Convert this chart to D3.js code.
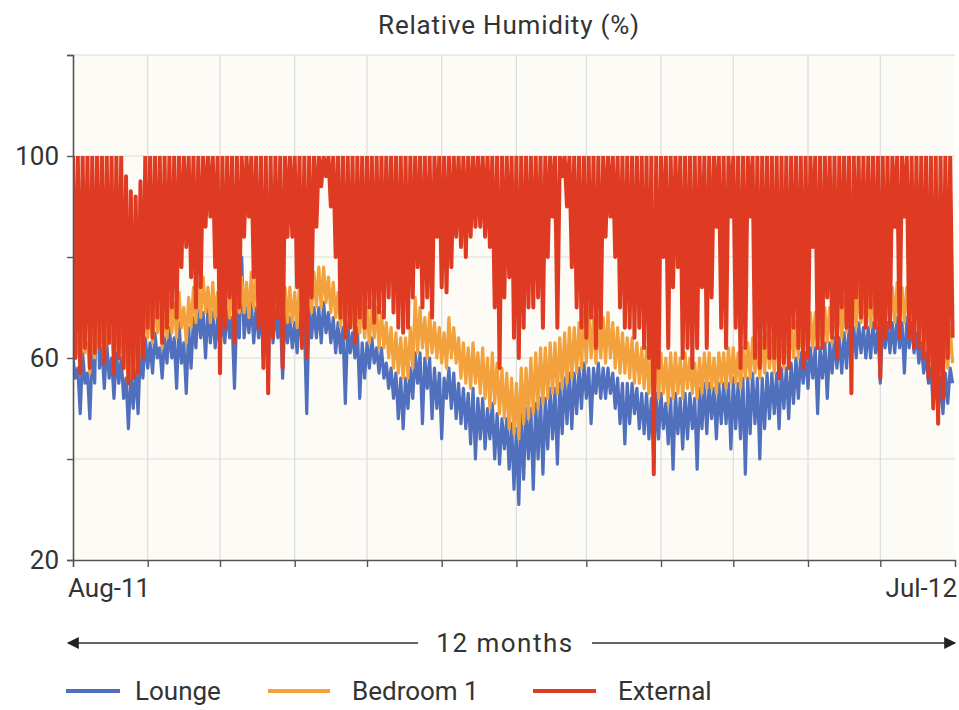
<!DOCTYPE html>
<html>
<head>
<meta charset="utf-8">
<script src="https://cdn.jsdelivr.net/npm/d3@7"></script>
<style>
  body { margin: 0; background: #fff; }
  text { font-family: Roboto, "DejaVu Sans", sans-serif; fill: #333; }
</style>
</head>
<body>
<div id="d3-target"></div>
<script>
// readings every second day from 1 Aug 2011, one high and one low per sample
const startDate = new Date(2011, 7, 1);
const endDate = new Date(2012, 7, 1);
const stepDays = 2;

const loungeLow = [
  56,49,55,48,55, 58,54,56,52,55, 52,46,50,49,56, 58,57,60,56,59, 60,54,59,53,58, 62,64,60,63,62,
  62,63,64,54,64, 64,65,63,64,60, 53,63,64,56,63, 62,61,63,49,64, 64,63,65,63,61, 61,51,61,60,52,
  56,58,59,57,56, 54,52,48,46,50, 52,55,47,54,48, 50,44,52,50,48, 47,46,43,40,44, 42,44,40,39,42,
  38,34,31,36,40, 34,40,37,42,44, 39,45,47,46,49, 50,52,47,53,52, 52,53,50,47,43, 47,49,46,45,44,
  39,44,46,43,38, 45,42,44,46,38, 46,45,48,44,47, 47,42,46,44,37, 45,47,40,46,48, 49,46,50,48,51,
  52,55,54,56,49, 56,52,57,58,57, 58,60,60,61,60, 60,61,55,62,61, 61,62,57,62,61, 59,57,55,50,49,
  49,51,55
];
const loungeHigh = [
  60,58,61,57,62, 78,62,63,60,61, 60,56,57,58,62, 64,63,65,62,64, 66,64,67,63,66, 68,70,69,70,69,
  68,69,70,68,70, 80,70,71,70,69, 69,81,70,69,69, 68,67,69,67,70, 70,70,71,69,68, 67,66,67,65,66,
  63,63,64,62,62, 59,58,57,56,56, 58,61,61,60,60, 58,57,56,58,57, 55,54,53,54,52, 52,50,51,49,48,
  48,47,46,49,50, 50,51,52,52,54, 54,55,56,57,57, 58,59,58,58,59, 58,58,57,56,55, 55,55,54,53,53,
  52,53,53,51,52, 53,52,53,53,52, 54,55,55,54,55, 55,55,56,55,56, 56,57,56,56,57, 57,57,58,58,59,
  60,61,61,62,62, 62,63,63,64,64, 65,66,66,67,66, 66,67,66,68,67, 67,68,67,68,67, 65,63,61,58,57,
  56,57,58
];
const bedroomLow = [
  60,58,61,57,60, 62,60,63,59,61, 59,55,56,57,62, 64,63,65,62,64, 65,64,66,63,66, 67,68,69,67,68,
  66,67,68,67,69, 69,68,70,69,68, 68,67,69,68,67, 67,66,68,67,69, 70,70,71,69,68, 66,65,66,64,65,
  64,63,64,62,62, 60,58,57,56,56, 58,61,62,60,61, 60,59,58,60,59, 56,55,54,55,53, 52,50,51,49,48,
  46,45,44,47,48, 49,50,51,52,53, 53,54,55,56,57, 58,59,60,59,60, 59,60,58,57,57, 56,55,55,54,53,
  52,52,53,51,52, 53,52,54,53,52, 53,54,54,53,55, 54,55,55,54,56, 56,57,56,57,58, 57,58,58,59,60,
  60,61,61,62,62, 62,63,63,64,64, 65,66,66,67,66, 66,67,66,68,67, 67,68,67,68,67, 65,63,61,59,58,
  57,58,59
];
const bedroomHigh = [
  66,64,67,63,66, 70,66,68,65,67, 65,62,61,63,68, 70,71,72,69,71, 72,71,73,70,72, 74,75,76,74,75,
  73,74,75,74,76, 76,75,77,76,75, 75,76,77,75,74, 74,73,75,74,76, 77,78,78,76,75, 73,72,73,71,72,
  71,70,71,70,69, 67,66,65,64,64, 66,72,70,68,69, 67,66,65,68,66, 64,63,62,63,61, 62,60,61,59,58,
  57,56,55,58,58, 60,61,62,62,63, 63,64,65,66,66, 67,69,70,68,68, 68,69,67,66,65, 64,64,63,62,62,
  61,62,61,60,61, 61,60,61,60,59, 60,61,61,60,61, 61,62,62,61,62, 63,64,63,64,65, 64,65,65,66,67,
  67,68,68,69,69, 69,70,70,71,72, 72,73,74,74,73, 73,74,73,75,74, 74,75,74,74,73, 72,70,68,66,65,
  64,65,66
];
const externalLow = [
  60,57,62,58,61, 62,59,63,57,60, 58,55,56,57,60, 66,64,68,63,66, 70,68,78,82,76, 70,74,86,88,78,
  57,66,72,63,70, 84,88,76,66,58, 53,64,68,58,84, 84,74,62,60,72, 86,94,96,90,80, 68,64,66,63,68,
  66,70,67,69,68, 72,69,66,65,66, 72,78,70,72,68, 84,74,73,78,84, 82,80,84,86,86, 84,82,70,58,72,
  76,64,60,66,70, 70,72,66,80,88, 66,96,90,78,70, 66,64,68,62,66, 84,88,80,70,66, 66,64,66,62,60,
  37,58,80,62,74, 78,60,62,58,62, 74,62,72,86,66, 62,88,66,58,62, 88,60,58,62,60, 60,56,59,58,66,
  62,58,60,82,62, 62,72,64,60,70, 66,53,72,68,66, 70,66,56,64,66, 86,64,88,64,62, 62,60,56,50,47,
  52,60,64
];
const externalHigh = [
  100,100,100,100,100, 100,100,100,100,100, 100,96,93,92,95, 100,100,100,100,100, 100,100,100,100,100, 100,100,100,100,100,
  100,100,100,100,100, 100,100,100,100,100, 100,100,100,100,100, 100,100,100,100,100, 100,100,100,100,100, 100,100,100,100,100,
  100,100,100,100,100, 100,100,100,100,100, 100,100,100,100,100, 100,100,100,100,100, 100,100,100,100,100, 100,100,100,100,100,
  100,100,100,100,100, 100,100,100,100,100, 100,100,100,100,100, 100,100,100,100,100, 100,100,100,100,100, 100,100,100,100,100,
  100,100,100,100,100, 100,100,100,100,100, 100,100,100,100,100, 100,100,100,100,100, 100,100,100,100,100, 100,100,100,100,100,
  100,100,100,100,100, 100,100,100,100,100, 100,100,100,100,100, 100,100,100,100,100, 100,100,100,100,100, 100,100,100,100,100,
  100,100,100
];

const yTicks = [20, 40, 60, 80, 100, 120];
const yLabels = [20, 60, 100];
const xLabels = ['Aug-11', 'Jul-12'];
const spanLabel = '12 months';
const series = [
  {name: 'Lounge', low: loungeLow, high: loungeHigh, color: '#5070bd', width: 3.2},
  {name: 'Bedroom 1', low: bedroomLow, high: bedroomHigh, color: '#f3a13d', width: 3.2},
  {name: 'External', low: externalLow, high: externalHigh, color: '#df3b22', width: 4}
];

const margin = {top: 55, right: 4, bottom: 150, left: 73},
  width = 959 - margin.left - margin.right,
  height = 710 - margin.top - margin.bottom;

const fontSize = 26;

const x = d3.scaleTime()
  .domain([startDate, endDate])
  .range([0, width]);

const y = d3.scaleLinear()
  .domain([20, 120])
  .range([height, 0]);

// interleave each sample's high and low so the trace swings like the hourly record
const toPoints = s => {
  const pts = [];
  s.low.forEach((lo, i) => {
    pts.push({date: d3.timeDay.offset(startDate, i * stepDays), v: s.high[i]});
    pts.push({date: d3.timeDay.offset(startDate, i * stepDays + 1), v: lo});
  });
  return pts;
};

const line = d3.line()
  .x(d => x(d.date))
  .y(d => y(d.v));

const svgTop = d3.select('#d3-target')
  .append('svg')
  .attr('width', 959)
  .attr('height', 710);

const svg = svgTop.append('g')
  .attr('transform', `translate(${margin.left},${margin.top})`);

svg.append('rect')
  .attr('width', width)
  .attr('height', height)
  .attr('fill', '#fdfbf5');

const monthTicks = d3.timeMonth.range(d3.timeMonth.offset(startDate, 1), endDate);

svg.append('g')
  .selectAll('line')
  .data(monthTicks)
  .enter().append('line')
    .attr('x1', d => x(d)).attr('x2', d => x(d))
    .attr('y1', 0).attr('y2', height)
    .attr('stroke', '#dcdcdc')
    .attr('stroke-width', 1.2);

svg.append('g')
  .selectAll('line')
  .data(yTicks.slice(1))
  .enter().append('line')
    .attr('x1', 0).attr('x2', width)
    .attr('y1', d => y(d)).attr('y2', d => y(d))
    .attr('stroke', '#dcdcdc')
    .attr('stroke-width', 1.2);

// keep the traces inside the plot, but let the 100 % ceiling show in full
svg.append('clipPath')
  .attr('id', 'plot-clip')
  .append('rect')
    .attr('y', y(100))
    .attr('width', width)
    .attr('height', height - y(100));

series.forEach(s => {
  svg.append('path')
    .datum(toPoints(s))
    .attr('clip-path', 'url(#plot-clip)')
    .attr('fill', 'none')
    .attr('stroke', s.color)
    .attr('stroke-width', s.width)
    .attr('stroke-linejoin', 'round')
    .attr('d', line);
});

const xAxis = d3.axisBottom(x)
  .tickValues(monthTicks)
  .tickSize(7)
  .tickFormat('');

const yAxis = d3.axisLeft(y)
  .tickValues(yTicks)
  .tickSize(6)
  .tickPadding(8)
  .tickFormat(d => yLabels.includes(d) ? d : '');

const gx = svg.append('g')
  .attr('transform', `translate(0,${height})`)
  .call(xAxis);

const gy = svg.append('g')
  .call(yAxis);

[gx, gy].forEach(g => {
  g.select('.domain').attr('stroke', '#555').attr('stroke-width', 1.6);
  g.selectAll('.tick line').attr('stroke', '#555').attr('stroke-width', 1.4);
});
gy.selectAll('.tick text')
  .attr('font-size', fontSize)
  .attr('font-family', 'Roboto, sans-serif')
  .attr('fill', '#333');

svg.append('text')
  .attr('x', -5)
  .attr('y', height + 37)
  .attr('font-size', fontSize)
  .text(xLabels[0]);

svg.append('text')
  .attr('x', width + 2)
  .attr('y', height + 37)
  .attr('text-anchor', 'end')
  .attr('font-size', fontSize)
  .text(xLabels[1]);

svgTop.append('text')
  .attr('x', 509)
  .attr('y', 34)
  .attr('text-anchor', 'middle')
  .attr('font-size', fontSize)
  .attr('letter-spacing', 0.8)
  .text('Relative Humidity (%)');

// span arrow under the axis
const defs = svgTop.append('defs');
defs.append('marker')
  .attr('id', 'arrow')
  .attr('viewBox', '0 0 10 10')
  .attr('refX', 9).attr('refY', 5)
  .attr('markerWidth', 7).attr('markerHeight', 6)
  .attr('markerUnits', 'strokeWidth')
  .attr('orient', 'auto-start-reverse')
  .append('path')
    .attr('d', 'M0,0L10,5L0,10z')
    .attr('fill', '#222');

const arrowY = 643;
svgTop.append('line')
  .attr('x1', 68).attr('x2', 418)
  .attr('y1', arrowY).attr('y2', arrowY)
  .attr('stroke', '#666').attr('stroke-width', 2)
  .attr('marker-start', 'url(#arrow)');
svgTop.append('line')
  .attr('x1', 592).attr('x2', 955)
  .attr('y1', arrowY).attr('y2', arrowY)
  .attr('stroke', '#666').attr('stroke-width', 2)
  .attr('marker-end', 'url(#arrow)');
svgTop.append('text')
  .attr('x', 505)
  .attr('y', arrowY + 9)
  .attr('text-anchor', 'middle')
  .attr('font-size', fontSize)
  .attr('letter-spacing', 1.5)
  .text(spanLabel);

const legendLine = [[66, 120], [268, 330], [533, 596]];
const legendText = [135, 352, 618];
const legend = svgTop.append('g')
  .selectAll('g')
  .data(series)
  .enter().append('g')
    .attr('transform', 'translate(0, 691)');
legend.append('line')
  .attr('x1', (d, i) => legendLine[i][0])
  .attr('x2', (d, i) => legendLine[i][1])
  .attr('stroke', d => d.color)
  .attr('stroke-width', 4);
legend.append('text')
  .attr('x', (d, i) => legendText[i])
  .attr('y', 9)
  .attr('font-size', fontSize)
  .text(d => d.name);
</script>
</body>
</html>
